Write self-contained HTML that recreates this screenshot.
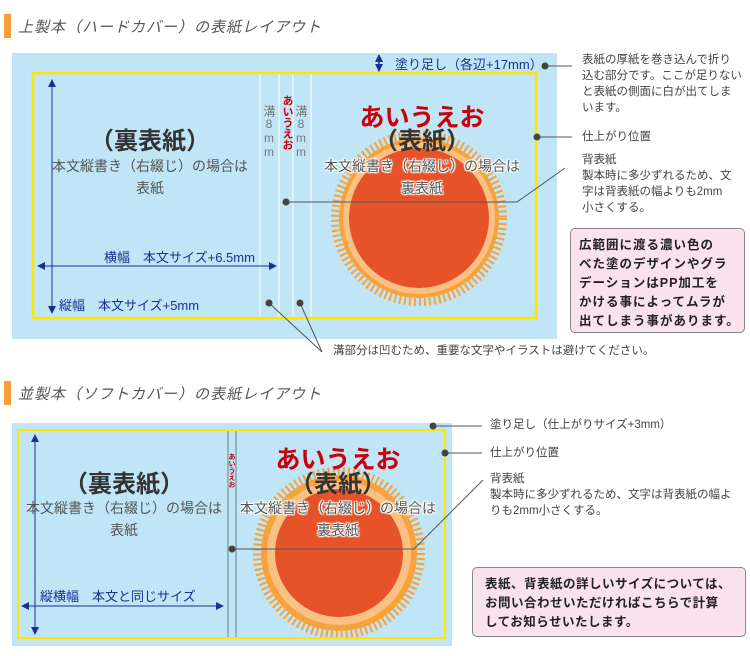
<!DOCTYPE html>
<html><head><meta charset="utf-8">
<style>
*{margin:0;padding:0;box-sizing:border-box}
body{width:750px;height:656px;background:#fff;position:relative;overflow:hidden;font-family:"Liberation Sans","Noto Sans CJK JP",sans-serif}
.a{position:absolute;white-space:nowrap}
.h{font-size:15px;color:#555;font-style:italic;letter-spacing:1px}
.bar{position:absolute;width:7px;background:#f5a03a}
.nv{color:#1f2f8f;font-size:13px}
.gy{color:#555;font-size:14px}
.big{color:#333;font-size:24px;font-weight:bold}
.red{color:#c8000a;font-size:25px;font-weight:bold}
.wt{color:#555;font-size:14px;text-shadow:0 0 2px #fff,0 0 2px #fff,1px 1px 1px #fff,-1px -1px 1px #fff,1px -1px 1px #fff,-1px 1px 1px #fff}
.note{font-size:11.5px;color:#444;line-height:16px}
.pink{position:absolute;background:#f9e1ee;border:1px solid #888;border-radius:5px;font-size:12.5px;font-weight:bold;color:#222;line-height:19px;white-space:nowrap}
.vt{writing-mode:vertical-rl;text-orientation:upright}
</style></head><body>
<svg width="750" height="656" style="position:absolute;left:0;top:0">
<defs>
<marker id="ar" markerWidth="8" markerHeight="8" refX="7" refY="4" orient="auto-start-reverse" markerUnits="userSpaceOnUse"><path d="M0,0 L8,4 L0,8 Z" fill="#1f2f8f"/></marker>
</defs>
<rect x="12" y="53" width="545" height="286" fill="#bfe5f6"/>
<g stroke="#fff" stroke-width="1">
<line x1="260" y1="74" x2="260" y2="318"/><line x1="279" y1="74" x2="279" y2="318"/>
<line x1="293" y1="74" x2="293" y2="318"/><line x1="311" y1="74" x2="311" y2="318"/>
</g>
<circle cx="419" cy="218" r="80" fill="#f7a23a"/>
<circle cx="419" cy="218" r="84" fill="none" stroke="#f7a23a" stroke-width="8" stroke-dasharray="2 3"/>
<circle cx="419" cy="218" r="76" fill="#f9c184"/>
<circle cx="419" cy="218" r="70" fill="#e65328"/>
<rect x="33" y="73" width="503" height="245" fill="none" stroke="#ffe600" stroke-width="2.5"/>
<line x1="52" y1="80" x2="52" y2="313" stroke="#1f2f8f" stroke-width="1" marker-start="url(#ar)" marker-end="url(#ar)"/>
<line x1="38" y1="266" x2="276" y2="266" stroke="#1f2f8f" stroke-width="1" marker-start="url(#ar)" marker-end="url(#ar)"/>
<line x1="379" y1="55" x2="379" y2="71" stroke="#1f2f8f" stroke-width="1.5" marker-start="url(#ar)" marker-end="url(#ar)"/>
<g stroke="#555" stroke-width="1" fill="none">
<polyline points="286,202 517,202 565,168"/>
<line x1="537" y1="137" x2="572" y2="137"/>
<line x1="545" y1="66" x2="572" y2="66"/>
<polyline points="269,303 322,352 300,303"/>
</g>
<g fill="#444"><circle cx="286" cy="202" r="3.5"/><circle cx="537" cy="137" r="3.5"/><circle cx="545" cy="66" r="3.5"/><circle cx="269" cy="303" r="3.5"/><circle cx="300" cy="303" r="3.5"/></g>
<rect x="12" y="423" width="440" height="223" fill="#bfe5f6"/>
<g stroke="#7b8fa0" stroke-width="1.2"><line x1="228" y1="431" x2="228" y2="637"/><line x1="236" y1="431" x2="236" y2="637"/></g>
<circle cx="339" cy="553" r="78" fill="#f7a23a"/>
<circle cx="339" cy="553" r="82" fill="none" stroke="#f7a23a" stroke-width="8" stroke-dasharray="2 3"/>
<circle cx="339" cy="553" r="72" fill="#f9c184"/>
<circle cx="339" cy="553" r="64" fill="#e65328"/>
<rect x="18" y="430" width="427" height="208" fill="none" stroke="#ffe600" stroke-width="2"/>
<line x1="35" y1="435" x2="35" y2="634" stroke="#1f2f8f" stroke-width="1" marker-start="url(#ar)" marker-end="url(#ar)"/>
<line x1="22" y1="606" x2="223" y2="606" stroke="#1f2f8f" stroke-width="1" marker-start="url(#ar)" marker-end="url(#ar)"/>
<g stroke="#555" stroke-width="1" fill="none">
<polyline points="232,549 414,549 483,480"/>
<line x1="433" y1="426" x2="482" y2="426"/>
<line x1="445" y1="453" x2="482" y2="453"/>
</g>
<g fill="#444"><circle cx="232" cy="549" r="3.5"/><circle cx="433" cy="426" r="3.5"/><circle cx="445" cy="453" r="3.5"/></g>
</svg>

<div class="bar" style="left:4px;top:14px;height:24px"></div>
<div class="a h" style="left:18px;top:16px">上製本（ハードカバー）の表紙レイアウト</div>
<div class="a nv" style="left:395px;top:54px">塗り足し（各辺+17mm）</div>
<div class="a big" style="left:150px;top:121px;transform:translateX(-50%)">（裏表紙）</div>
<div class="a gy" style="left:150px;top:155px;transform:translateX(-50%);text-align:center;line-height:22px">本文縦書き（右綴じ）の場合は<br>表紙</div>
<div class="a nv" style="left:104px;top:247px">横幅　本文サイズ+6.5mm</div>
<div class="a nv" style="left:59px;top:295px">縦幅　本文サイズ+5mm</div>
<div class="a vt" style="left:262px;top:105px;font-size:12px;color:#777;line-height:14px">溝8mm</div>
<div class="a vt" style="left:280px;top:95px;font-size:11px;color:#c8000a;font-weight:bold;line-height:13px">あいうえお</div>
<div class="a vt" style="left:294px;top:105px;font-size:12px;color:#777;line-height:14px">溝8mm</div>
<div class="a red" style="left:422px;top:98px;transform:translateX(-50%)">あいうえお</div>
<div class="a big" style="left:422px;top:121px;transform:translateX(-50%)">（表紙）</div>
<div class="a wt" style="left:422px;top:155px;transform:translateX(-50%);text-align:center;line-height:22px">本文縦書き（右綴じ）の場合は<br>裏表紙</div>
<div class="a note" style="left:582px;top:52px">表紙の厚紙を巻き込んで折り<br>込む部分です。ここが足りない<br>と表紙の側面に白が出てしま<br>います。</div>
<div class="a note" style="left:582px;top:129px">仕上がり位置</div>
<div class="a note" style="left:582px;top:152px">背表紙<br>製本時に多少ずれるため、文<br>字は背表紙の幅よりも2mm<br>小さくする。</div>
<div class="pink" style="left:570px;top:228px;width:175px;height:105px;padding:7px 0 0 8px;letter-spacing:1px">広範囲に渡る濃い色の<br>べた塗のデザインやグラ<br>デーションはPP加工を<br>かける事によってムラが<br>出てしまう事があります。</div>
<div class="a note" style="left:333px;top:343px">溝部分は凹むため、重要な文字やイラストは避けてください。</div>

<div class="bar" style="left:4px;top:381px;height:24px"></div>
<div class="a h" style="left:18px;top:383px">並製本（ソフトカバー）の表紙レイアウト</div>
<div class="a big" style="left:124px;top:464px;transform:translateX(-50%)">（裏表紙）</div>
<div class="a gy" style="left:124px;top:497px;transform:translateX(-50%);text-align:center;line-height:22px">本文縦書き（右綴じ）の場合は<br>表紙</div>
<div class="a nv" style="left:40px;top:586px">縦横幅　本文と同じサイズ</div>
<div class="a vt" style="left:227px;top:453px;font-size:7px;color:#c8000a;font-weight:bold;line-height:9px">あいうえお</div>
<div class="a red" style="left:338px;top:440px;transform:translateX(-50%)">あいうえお</div>
<div class="a big" style="left:338px;top:464px;transform:translateX(-50%)">（表紙）</div>
<div class="a wt" style="left:338px;top:497px;transform:translateX(-50%);text-align:center;line-height:22px">本文縦書き（右綴じ）の場合は<br>裏表紙</div>
<div class="a note" style="left:490px;top:417px">塗り足し（仕上がりサイズ+3mm）</div>
<div class="a note" style="left:490px;top:445px">仕上がり位置</div>
<div class="a note" style="left:490px;top:471px">背表紙<br>製本時に多少ずれるため、文字は背表紙の幅よ<br>りも2mm小さくする。</div>
<div class="pink" style="left:472px;top:567px;width:274px;height:70px;padding:7px 0 0 12px;letter-spacing:0.5px">表紙、背表紙の詳しいサイズについては、<br>お問い合わせいただければこちらで計算<br>してお知らせいたします。</div>
</body></html>
